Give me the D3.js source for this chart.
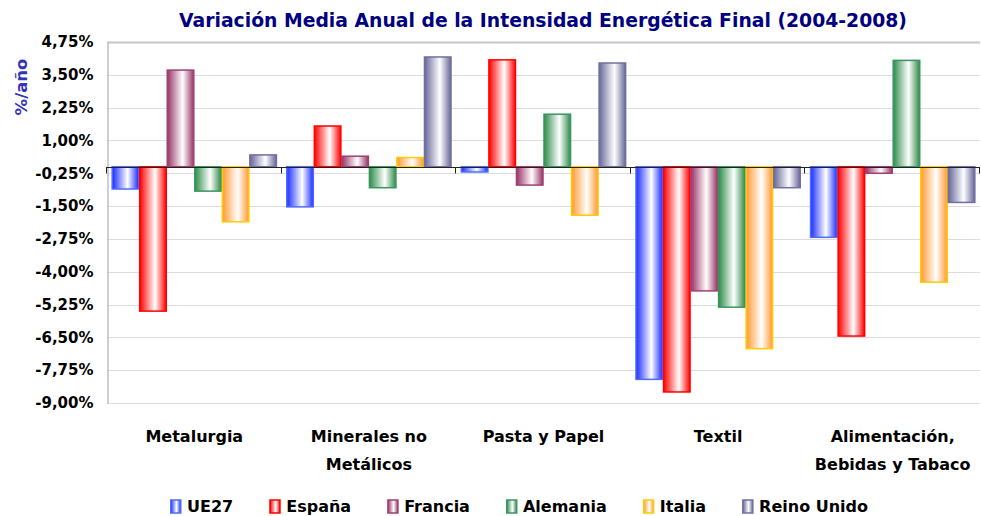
<!DOCTYPE html>
<html>
<head>
<meta charset="utf-8">
<script src="https://cdn.jsdelivr.net/npm/d3@7"></script>
<style>
  body { margin: 0; background: #fff; }
  text { font-family: "DejaVu Sans", Verdana, sans-serif; font-weight: bold; }
</style>
</head>
<body>
<div id="chart"></div>
<script>
//Chart data
var categories = [["Metalurgia"], ["Minerales no", "Metálicos"], ["Pasta y Papel"], ["Textil"], ["Alimentación,", "Bebidas y Tabaco"]];
var seriesNames = ["UE27", "España", "Francia", "Alemania", "Italia", "Reino Unido"];
var ue27     = [-0.85, -1.53, -0.20, -8.10, -2.69];
var espana   = [-5.50,  1.55,  4.07, -8.58, -6.45];
var francia  = [ 3.68,  0.40, -0.70, -4.73, -0.25];
var alemania = [-0.93, -0.80,  2.00, -5.35,  4.05];
var italia   = [-2.10,  0.35, -1.85, -6.93, -4.40];
var reino    = [ 0.45,  4.18,  3.95, -0.80, -1.36];
var tickValues = [4.75, 3.5, 2.25, 1.0, -0.25, -1.5, -2.75, -4.0, -5.25, -6.5, -7.75, -9.0];

var seriesValues = [ue27, espana, francia, alemania, italia, reino];
//fill colour and border colour of each series
var fills   = ["#1a2cff", "#ff0000", "#993366", "#2e8b4a", "#ff9933", "#666699"];
var strokes = ["#4d6bff", "#ff0000", "#a04070", "#3a9660", "#ffcc00", "#7070a0"];

var width = 981, height = 516;
var margin = {left: 107, right: 1, top: 42, bottom: 113};

var svg = d3.select("#chart").append("svg")
    .attr("width", width)
    .attr("height", height);

//Gradients for the cylinder look
var defs = svg.append("defs");
fills.forEach(function(c, i) {
    var g = defs.append("linearGradient")
        .attr("id", "grad" + i)
        .attr("x1", "0%").attr("x2", "100%")
        .attr("y1", "0%").attr("y2", "0%");
    g.append("stop").attr("offset", "0%").attr("stop-color", c);
    g.append("stop").attr("offset", "58%").attr("stop-color", "#ffffff");
    g.append("stop").attr("offset", "100%").attr("stop-color", c);
});

var x0 = d3.scaleBand()
    .domain(d3.range(categories.length))
    .range([margin.left, width - margin.right]);

var x1 = d3.scaleBand()
    .domain(d3.range(seriesNames.length))
    .range([0, x0.bandwidth()])
    .paddingOuter(0.17);

var y = d3.scaleLinear()
    .domain([-9, 4.75])
    .range([height - margin.bottom, margin.top]);

var fmt = function(v) { return d3.format(".2f")(v).replace(".", ",").replace("−", "-") + "%"; };

//Grid lines
svg.append("g").selectAll("line")
    .data(tickValues)
    .enter().append("line")
    .attr("x1", margin.left).attr("x2", width - margin.right)
    .attr("y1", function(d) { return Math.round(y(d)) + 0.5; })
    .attr("y2", function(d) { return Math.round(y(d)) + 0.5; })
    .attr("stroke", function(d) { return d === 4.75 ? "#c8c8c8" : "#dcdcdc"; })
    .attr("stroke-width", function(d) { return d === 4.75 ? 2 : 1; });

//Y axis
var yAxis = d3.axisLeft(y).tickValues(tickValues).tickFormat(fmt).tickSize(0).tickPadding(14);
var yg = svg.append("g")
    .attr("transform", "translate(" + (margin.left + 0.5) + ",0)")
    .call(yAxis);
yg.select(".domain").attr("stroke", "#bfbfbf").attr("stroke-width", 1.5);
yg.selectAll("text")
    .attr("font-size", 15)
    .attr("fill", "#000")
    .style("font-family", "DejaVu Sans")
    .style("font-weight", "bold");

//Bars
var groups = svg.append("g").selectAll("g")
    .data(categories)
    .enter().append("g")
    .attr("transform", function(d, i) { return "translate(" + x0(i) + ",0)"; });

groups.selectAll("rect")
    .data(function(d, i) {
        return seriesValues.map(function(s, j) { return {s: j, v: s[i]}; });
    })
    .enter().append("rect")
    .attr("x", function(d) { return x1(d.s) + 0.5; })
    .attr("width", x1.bandwidth() - 1)
    .attr("y", function(d) { return y(Math.max(0, d.v)); })
    .attr("height", function(d) { return Math.abs(y(d.v) - y(0)); })
    .attr("fill", function(d) { return "url(#grad" + d.s + ")"; })
    .attr("stroke", function(d) { return strokes[d.s]; })
    .attr("stroke-width", 1.5);

//Category axis at zero
var xAxisY = Math.round(y(0)) + 0.5;
svg.append("line")
    .attr("x1", margin.left - 1).attr("x2", width - margin.right)
    .attr("y1", xAxisY).attr("y2", xAxisY)
    .attr("stroke", "#222").attr("stroke-width", 1);
svg.append("g").selectAll("line")
    .data(d3.range(categories.length + 1))
    .enter().append("line")
    .attr("x1", function(d) { return Math.round(margin.left + d * x0.step()) - 0.5; })
    .attr("x2", function(d) { return Math.round(margin.left + d * x0.step()) - 0.5; })
    .attr("y1", xAxisY).attr("y2", xAxisY + 6)
    .attr("stroke", "#222");

//Category labels
var labels = svg.append("g").selectAll("text")
    .data(categories)
    .enter().append("text")
    .attr("text-anchor", "middle")
    .attr("font-size", 16)
    .attr("fill", "#000")
    .attr("x", function(d, i) { return x0(i) + x0.bandwidth() / 2; })
    .attr("y", 442);
labels.selectAll("tspan")
    .data(function(d) { return d; })
    .enter().append("tspan")
    .attr("x", function() { return this.parentNode.getAttribute("x"); })
    .attr("dy", function(d, i) { return i === 0 ? 0 : 28; })
    .text(function(d) { return d; });

//Title
svg.append("text")
    .attr("x", 543).attr("y", 27)
    .attr("text-anchor", "middle")
    .attr("font-size", 18.8)
    .attr("fill", "#000080")
    .text("Variación Media Anual de la Intensidad Energética Final (2004-2008)");

//Y label
svg.append("text")
    .attr("transform", "translate(27,87) rotate(-90)")
    .attr("text-anchor", "middle")
    .attr("font-size", 16.5)
    .attr("fill", "#3333bb")
    .text("%/año");

//Legend
var legend = svg.append("g");
var items = legend.selectAll("g")
    .data(seriesNames)
    .enter().append("g");
items.append("rect")
    .attr("width", 10).attr("height", 13)
    .attr("x", 0.75)
    .attr("y", 500)
    .attr("fill", function(d, i) { return "url(#grad" + i + ")"; })
    .attr("stroke", function(d, i) { return strokes[i]; })
    .attr("stroke-width", 1.5);
items.append("text")
    .attr("x", 17).attr("y", 512)
    .attr("font-size", 16)
    .attr("fill", "#000")
    .text(function(d) { return d; });

var legStart = 170, legEnd = 868;
var widths = [];
items.each(function() { widths.push(17 + d3.select(this).select("text").node().getComputedTextLength()); });
var gap = (legEnd - legStart - d3.sum(widths)) / (seriesNames.length - 1);
var pos = legStart;
items.each(function(d, i) {
    d3.select(this).attr("transform", "translate(" + pos + ",0)");
    pos += widths[i] + gap;
});
</script>
</body>
</html>
